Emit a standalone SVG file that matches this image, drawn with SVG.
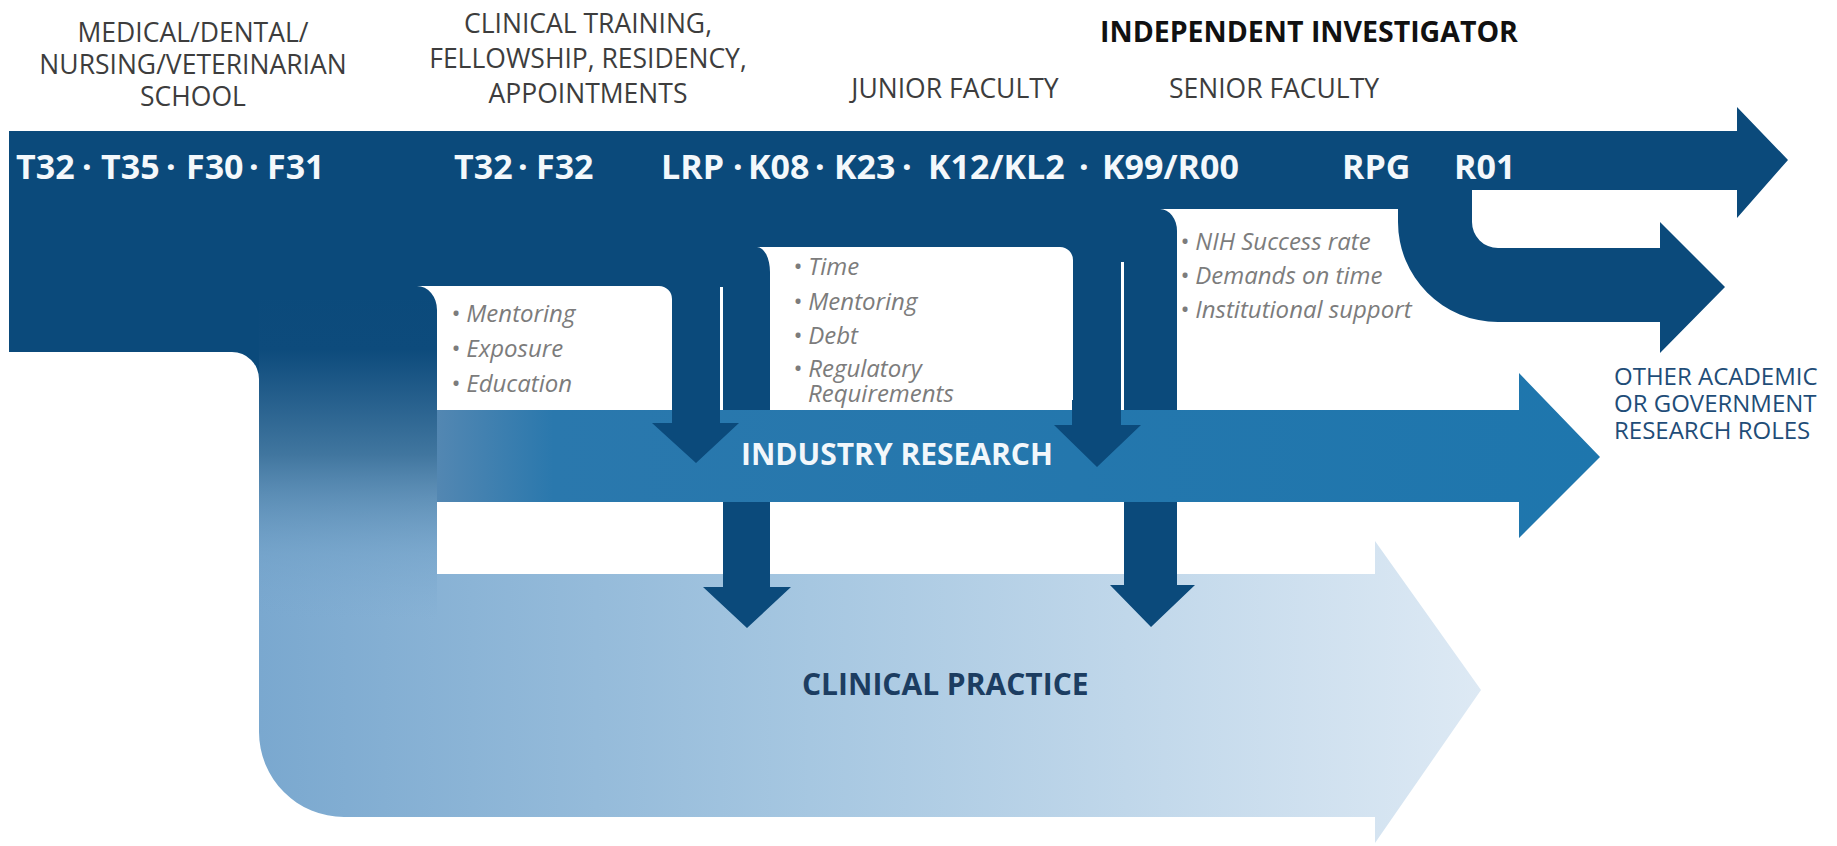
<svg xmlns="http://www.w3.org/2000/svg" width="1837" height="846" viewBox="0 0 1837 846">
<style>
.hdr{font-family:"Open Sans","Noto Sans",sans-serif;font-size:26.5px;fill:#3d3d3d;text-anchor:middle}
.hdrb{font-family:"Open Sans","Noto Sans",sans-serif;font-size:28.5px;font-weight:700;fill:#111;text-anchor:middle}
.band{font-family:"Open Sans","Noto Sans",sans-serif;font-size:34px;font-weight:700;fill:#f4f8fb}
.bul{font-family:"Open Sans","Noto Sans",sans-serif;font-size:24px;font-style:italic;fill:#7c7c7c}
.big{font-family:"Open Sans","Noto Sans",sans-serif;font-size:30px;font-weight:700}
.side{font-family:"Open Sans","Noto Sans",sans-serif;font-size:24px;fill:#1f4d78}
.dark{fill:#0b4a7b}
.white{fill:#ffffff}
</style>
<defs>
<linearGradient id="gClin" gradientUnits="userSpaceOnUse" x1="259" y1="0" x2="1481" y2="0">
<stop offset="0" stop-color="#7aa8cf"/>
<stop offset="0.45" stop-color="#a6c7e1"/>
<stop offset="1" stop-color="#dde9f4"/>
</linearGradient>
<linearGradient id="gBand" gradientUnits="userSpaceOnUse" x1="0" y1="290" x2="0" y2="620">
<stop offset="0" stop-color="#0b4a7b" stop-opacity="1"/>
<stop offset="0.18" stop-color="#0d4b7c" stop-opacity="1"/>
<stop offset="0.5" stop-color="#41769f" stop-opacity="1"/>
<stop offset="0.8" stop-color="#6f9fc6" stop-opacity="0.5"/>
<stop offset="1" stop-color="#7aa8cf" stop-opacity="0"/>
</linearGradient>
<linearGradient id="gInd" gradientUnits="userSpaceOnUse" x1="437" y1="0" x2="1600" y2="0">
<stop offset="0" stop-color="#5387b2"/>
<stop offset="0.1" stop-color="#2a78ad"/>
<stop offset="1" stop-color="#1e76ad"/>
</linearGradient>
</defs>

<g id="clinical-practice">
<path d="M259,290 L437,290 L437,574 L1375,574 L1375,541 L1481,690 L1375,843 L1375,817 L344,817 A85,85 0 0 1 259,732 Z" fill="url(#gClin)"/>
<rect x="259" y="290" width="178" height="330" fill="url(#gBand)"/>
<text class="big" x="802" y="695" fill="#1c3d61">CLINICAL PRACTICE</text>
</g>

<g id="main-track">
<path class="dark" d="M9,131 L1737,131 L1737,107 L1788,160 L1737,218 L1737,190 L1472,190 L1472,222 A26,26 0 0 0 1498,248 L1660,248 L1660,222 L1725,287 L1660,353 L1660,322 L1498,322 A100,100 0 0 1 1398,222 L1398,209 L1177,209 L1177,410 L437,410 L437,300 L259,300 L259,379 A27,27 0 0 0 232,352 L9,352 Z"/>
<text class="band" y="179"><tspan x="16">T32</tspan><tspan x="82">·</tspan><tspan x="101">T35</tspan><tspan x="166">·</tspan><tspan x="186">F30</tspan><tspan x="249">·</tspan><tspan x="267">F31</tspan></text>
<text class="band" y="179"><tspan x="454">T32</tspan><tspan x="518">·</tspan><tspan x="536">F32</tspan></text>
<text class="band" y="179"><tspan x="661">LRP</tspan><tspan x="733">·</tspan><tspan x="748">K08</tspan><tspan x="815">·</tspan><tspan x="834">K23</tspan><tspan x="902">·</tspan><tspan x="928">K12/KL2</tspan><tspan x="1079">·</tspan><tspan x="1102">K99/R00</tspan></text>
<text class="band" y="179"><tspan x="1342">RPG</tspan><tspan x="1454">R01</tspan></text>
</g>

<g id="box-training">
<path class="white" d="M417,286 L659,286 A13,13 0 0 1 672,299 L672,410 L437,410 L437,310 A20,24 0 0 0 417,286 Z"/>
<text class="bul" x="451" y="322">• Mentoring</text>
<text class="bul" x="451" y="357">• Exposure</text>
<text class="bul" x="451" y="392">• Education</text>
</g>

<g id="box-junior">
<path class="white" d="M757,247 L1060,247 A13,13 0 0 1 1073,260 L1073,410 L770,410 L770,272 A13,25 0 0 0 757,247 Z"/>
<text class="bul" x="793" y="275">• Time</text>
<text class="bul" x="793" y="310">• Mentoring</text>
<text class="bul" x="793" y="344">• Debt</text>
<text class="bul" x="793" y="377">• Regulatory</text>
<text class="bul" x="808" y="402">Requirements</text>
</g>

<g id="box-senior">
<path class="white" d="M1160,209 L1398,209 L1398,410 L1177,410 L1177,231 A17,22 0 0 0 1160,209 Z"/>
<text class="bul" x="1180" y="250">• NIH Success rate</text>
<text class="bul" x="1180" y="284">• Demands on time</text>
<text class="bul" x="1180" y="318">• Institutional support</text>
</g>

<g id="connectors">
<rect class="white" x="720" y="287" width="3" height="123"/>
<rect class="white" x="1121" y="262" width="3" height="148"/>
<path class="dark" d="M723,400 L770,400 L770,587 L791,587 L747,628 L703,587 L723,587 Z"/>
<path class="dark" d="M1124,400 L1177,400 L1177,585 L1195,585 L1151,627 L1110,585 L1124,585 Z"/>
</g>

<g id="industry-research">
<path d="M437,410 L1519,410 L1519,373 L1600,457 L1519,538 L1519,502 L437,502 Z" fill="url(#gInd)"/>
<text class="big" x="741" y="465" fill="#f2f7fb">INDUSTRY RESEARCH</text>
</g>

<g id="connectors-front">
<path class="dark" d="M672,400 L720,400 L720,423 L739,423 L696,463 L652,423 L672,423 Z"/>
<path class="dark" d="M1072,400 L1121,400 L1121,425 L1141,425 L1097,467 L1054,425 L1072,425 Z"/>
</g>

<g id="stage-headers">
<text class="hdr" x="193" y="42">MEDICAL/DENTAL/</text>
<text class="hdr" x="193" y="74">NURSING/VETERINARIAN</text>
<text class="hdr" x="193" y="106">SCHOOL</text>
<text class="hdr" x="588" y="33">CLINICAL TRAINING,</text>
<text class="hdr" x="588" y="68">FELLOWSHIP, RESIDENCY,</text>
<text class="hdr" x="588" y="103">APPOINTMENTS</text>
<text class="hdr" x="955" y="98">JUNIOR FACULTY</text>
<text class="hdrb" x="1309" y="42">INDEPENDENT INVESTIGATOR</text>
<text class="hdr" x="1274" y="98">SENIOR FACULTY</text>
</g>

<g id="other-roles">
<text class="side" x="1614" y="385">OTHER ACADEMIC</text>
<text class="side" x="1614" y="412">OR GOVERNMENT</text>
<text class="side" x="1614" y="439">RESEARCH ROLES</text>
</g>
</svg>
